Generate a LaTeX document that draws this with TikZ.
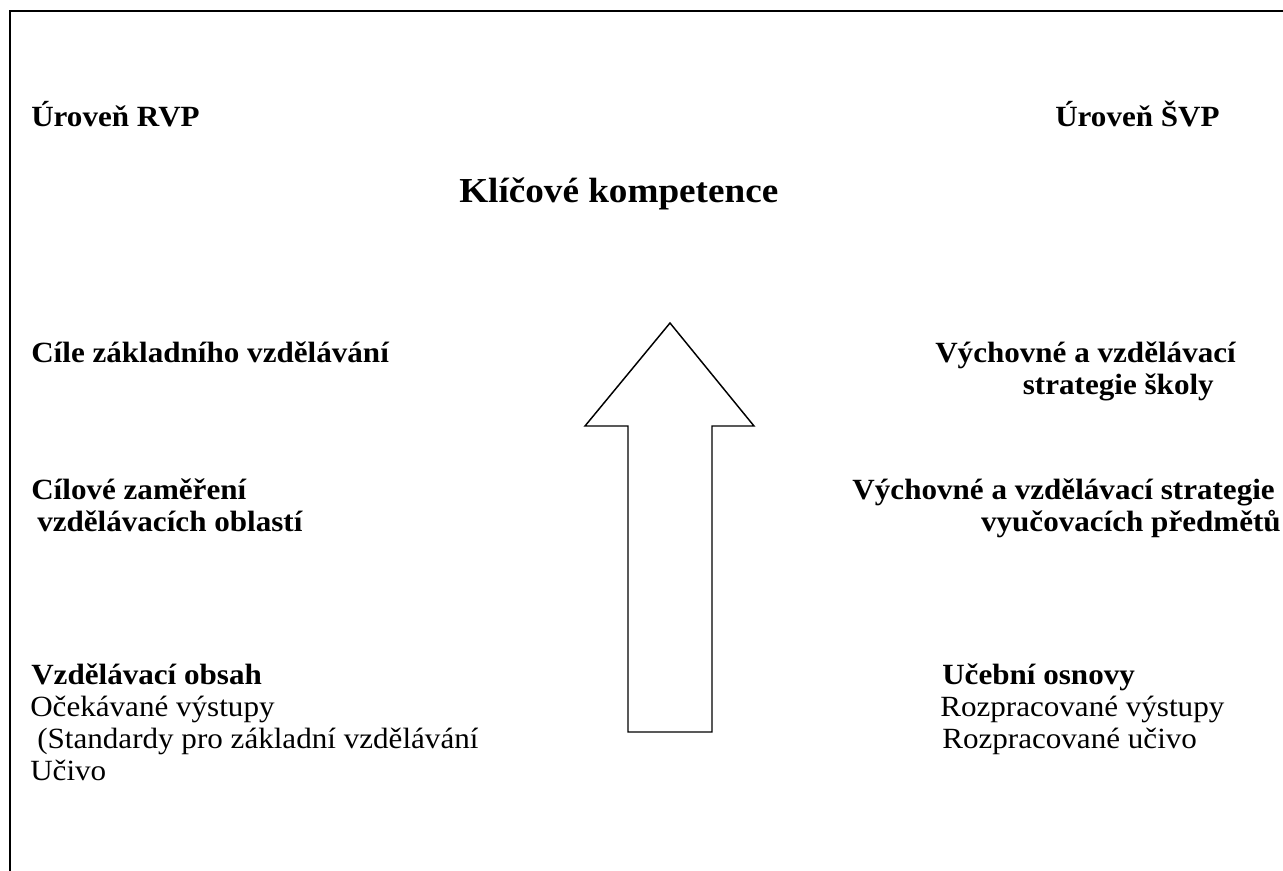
\documentclass[tikz,border=0pt]{standalone}
\usepackage{fontspec}
\setmainfont[FakeStretch=1.06]{Liberation Serif}
\begin{document}
\begin{tikzpicture}[x=0.75pt,y=-0.75pt,
  txt/.style={inner sep=0pt,anchor=base west,font=\fontsize{22}{24}\selectfont},
  btxt/.style={txt,font=\fontsize{22}{24}\selectfont\bfseries},
  ttl/.style={inner sep=0pt,anchor=base west,font=\fontsize{26.3}{28}\selectfont\bfseries},
  frame/.style={line width=1.5pt},
  bigarrow/.style={line width=1.1pt,line join=miter}]
\useasboundingbox (0,0) rectangle (1283,871);
% frame
\coordinate (fbl) at (10,871);
\coordinate (ftl) at (10,11);
\coordinate (ftr) at (1283,11);
\draw[frame] (fbl) -- (ftl) -- (ftr);
% headings
\node[btxt] (rvp) at (31,126) {Úroveň RVP};
\node[btxt] (svp) at (1055,126) {Úroveň ŠVP};
\node[ttl] (kk) at (459,202) {Klíčové kompetence};
% left column
\node[btxt] (cile) at (31,362) {Cíle základního vzdělávání};
\node[btxt] (cz1) at (31,499) {Cílové zaměření};
\node[btxt] (cz2) at (37,531) {vzdělávacích oblastí};
\node[btxt] (vo) at (31,684) {Vzdělávací obsah};
\node[txt] (ov) at (30,716) {Očekávané výstupy};
\node[txt] (std) at (37,748) {(Standardy pro základní vzdělávání};
\node[txt] (uc) at (30,780) {Učivo};
% right column
\node[btxt] (vs1) at (935,362) {Výchovné a vzdělávací};
\node[btxt,anchor=base east] (vs2) at (1214,394) {strategie školy};
\node[btxt,anchor=base east] (vp1) at (1275,499) {Výchovné a vzdělávací strategie};
\node[btxt,anchor=base east] (vp2) at (1281,531) {vyučovacích předmětů};
\node[btxt] (uo) at (942,684) {Učební osnovy};
\node[txt] (rv) at (940,716) {Rozpracované výstupy};
\node[txt] (ru) at (942,748) {Rozpracované učivo};
% arrow
\coordinate (tip) at (670,323);
\coordinate (hr) at (754,426);
\coordinate (sr) at (712,426);
\coordinate (br) at (712,732);
\coordinate (bl) at (628,732);
\coordinate (sl) at (628,426);
\coordinate (hl) at (585,426);
\draw[bigarrow] (tip) -- (hr) -- (sr) -- (br) -- (bl) -- (sl) -- (hl) -- cycle;
\end{tikzpicture}
\end{document}
